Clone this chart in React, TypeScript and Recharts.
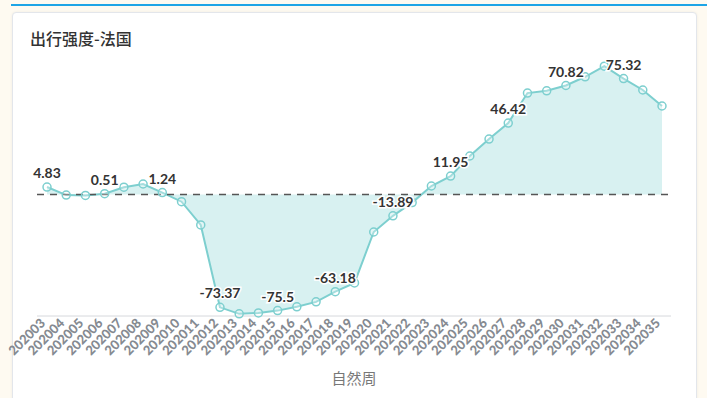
import { Area, AreaChart, LabelList, ReferenceLine, XAxis, YAxis } from "recharts";

const weeks = [
  "202003", "202004", "202005", "202006", "202007", "202008", "202009", "202010", "202011",
  "202012", "202013", "202014", "202015", "202016", "202017", "202018", "202019", "202020",
  "202021", "202022", "202023", "202024", "202025", "202026", "202027", "202028", "202029",
  "202030", "202031", "202032", "202033", "202034", "202035",
];

const intensity = [
  4.83, -0.4, -0.6, 0.51, 4.7, 6.8, 1.24, -4.7, -19.8,
  -73.37, -77.6, -77.0, -75.5, -73.0, -69.8, -63.18, -57.5, -24.4,
  -13.89, -5.3, 5.5, 11.95, 25, 36, 46.42, 65.9, 67.4,
  70.82, 76.5, 83.4, 75.32, 67.9, 57.5,
];

const title = "出行强度-法国";
const xTitle = "自然周";
const teal = "#7dcfcf";

const data = weeks.map((w, i) => ({ week: w, value: intensity[i] }));

function WeekTick({ x, y, payload }: any) {
  return (
    <g transform={`translate(${x - 1},${y + 8})`}>
      <text
        textAnchor="end"
        transform="rotate(-45)"
        fontSize={13}
        fontWeight={900}
        fill="#858a91"
        fontFamily="Lato, sans-serif"
      >
        {payload.value}
      </text>
    </g>
  );
}

// only every third point carries a value label
function PointLabel({ x, y, value, index }: any) {
  if (index % 3 !== 0) return null;
  return (
    <text
      x={x}
      y={y - 9}
      textAnchor="middle"
      fontSize={14}
      fontWeight={700}
      fill="#333"
      stroke="#fff"
      strokeWidth={3}
      paintOrder="stroke"
      fontFamily="Lato, sans-serif"
    >
      {value}
    </text>
  );
}

export default function App() {
  return (
    <div style={{ position: "fixed", left: 0, top: 0, width: 707, height: 398, background: "#fefaf1", overflow: "hidden" }}>
      <div style={{ position: "absolute", left: 11, top: 4, width: 696, height: 2, background: "#1ea5e6" }} />
      <div
        style={{
          position: "absolute",
          left: 12,
          top: 12,
          width: 683,
          height: 400,
          background: "#fff",
          border: "1px solid #e3e6eb",
          borderRadius: 4,
          boxShadow: "0 0 3px rgba(0,0,0,0.06)",
        }}
      />
      <div
        style={{
          position: "absolute",
          left: 30,
          top: 27,
          fontSize: 16,
          lineHeight: "22px",
          fontWeight: 500,
          color: "#333",
          fontFamily: "'Noto Sans CJK SC', sans-serif",
        }}
      >
        {title}
      </div>
      <div style={{ position: "absolute", left: 0, top: 0 }}>
        <AreaChart width={707} height={398} data={data} margin={{ top: 56, right: 36, bottom: 22, left: 37 }}>
          <XAxis
            dataKey="week"
            interval={0}
            tickLine={false}
            tickSize={0}
            tickMargin={0}
            height={60}
            axisLine={{ stroke: "#d6d8dc" }}
            padding={{ left: 10, right: 9 }}
            tick={<WeekTick />}
            label={{
              value: xTitle,
              position: "insideBottom",
              offset: -8,
              fill: "#777",
              fontSize: 15,
              fontFamily: "'Noto Sans CJK SC', sans-serif",
            }}
          />
          <YAxis hide domain={[-79, 90]} />
          <ReferenceLine y={0} stroke="#555" strokeDasharray="7 6" strokeWidth={1.5} />
          <Area
            type="linear"
            dataKey="value"
            stroke={teal}
            strokeWidth={2}
            fill={teal}
            fillOpacity={0.3}
            dot={{ r: 4, fill: "#fff", stroke: teal, strokeWidth: 1.5 }}
            activeDot={false}
            isAnimationActive={false}
          >
            <LabelList dataKey="value" content={<PointLabel />} />
          </Area>
        </AreaChart>
      </div>
    </div>
  );
}
